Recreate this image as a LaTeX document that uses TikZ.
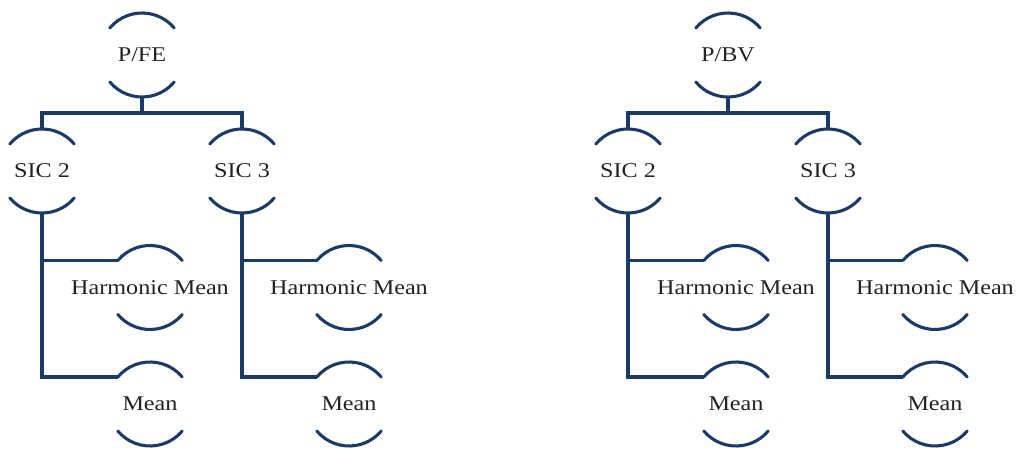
\documentclass[tikz,border=0pt]{standalone}
\usepackage{fontspec}
\setmainfont[FakeStretch=1.15]{Liberation Serif}
\usetikzlibrary{calc}
\definecolor{navy}{HTML}{1B3A66}
\definecolor{ink}{HTML}{222222}
\tikzset{
  ring/.style={circle, minimum size=84pt, inner sep=0pt, outer sep=0pt, draw=none},
  txt/.style={font=\fontsize{21}{24}\selectfont, text=ink, inner sep=0pt},
  arcline/.style={draw=navy, line width=3.1pt, line cap=round},
  conn/.style={draw=navy, line width=3.4pt}
}
\begin{document}
\begin{tikzpicture}[x=1pt,y=1pt]
\useasboundingbox (0,0) rectangle (1018,450);
% ring nodes
\foreach \n/\x/\y/\t in {
  pfe/142/395/{P/FE}, lsa/42/279/{SIC 2}, lsb/242/279/{SIC 3},
  lha/150/162.5/{Harmonic Mean}, lma/150/46/{Mean},
  lhb/349/162.5/{Harmonic Mean}, lmb/349/46/{Mean},
  pbv/728/395/{P/BV}, rsa/628/279/{SIC 2}, rsb/828/279/{SIC 3},
  rha/736/162.5/{Harmonic Mean}, rma/736/46/{Mean},
  rhb/935/162.5/{Harmonic Mean}, rmb/935/46/{Mean}}{
  \node[ring] (\n) at (\x,\y) {};
  \node[txt] (\n t) at (\n) {\t};
  \draw[arcline] (\n.140) arc[start angle=140, end angle=40, radius=42pt];
  \draw[arcline] (\n.220) arc[start angle=220, end angle=320, radius=42pt];
}
% connectors, left tree
\coordinate (busL) at ($(pfe.south)+(0,-16)$);
\draw[conn] (pfe.south) -- (busL);
\draw[conn] (lsa.north) |- (busL) -| (lsb.north);
\draw[conn] (lsa.south) |- (lha.140);
\draw[conn] (lsa.south) |- (lma.140);
\draw[conn] (lsb.south) |- (lhb.140);
\draw[conn] (lsb.south) |- (lmb.140);
% connectors, right tree
\coordinate (busR) at ($(pbv.south)+(0,-16)$);
\draw[conn] (pbv.south) -- (busR);
\draw[conn] (rsa.north) |- (busR) -| (rsb.north);
\draw[conn] (rsa.south) |- (rha.140);
\draw[conn] (rsa.south) |- (rma.140);
\draw[conn] (rsb.south) |- (rhb.140);
\draw[conn] (rsb.south) |- (rmb.140);
\end{tikzpicture}
\end{document}
